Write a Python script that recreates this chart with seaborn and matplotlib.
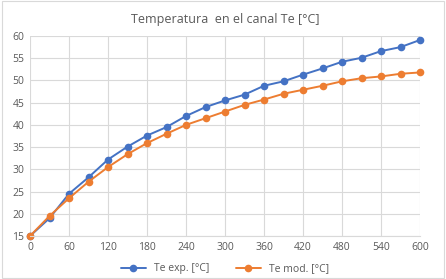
import matplotlib
matplotlib.use("Agg")
import matplotlib.pyplot as plt
import pandas as pd
import seaborn as sns

tiempo = [0, 30, 60, 90, 120, 150, 180, 210, 240, 270, 300, 330, 360, 390, 420, 450, 480, 510, 540, 570, 600]
te_exp = [15.0, 19.0, 24.5, 28.2, 32.2, 35.1, 37.6, 39.5, 42.0, 44.0, 45.5, 46.8, 48.8, 49.8, 51.3, 52.7, 54.2, 55.1, 56.6, 57.5, 59.1]
te_mod = [15.0, 19.5, 23.5, 27.2, 30.5, 33.4, 35.9, 38.0, 40.0, 41.5, 43.0, 44.5, 45.7, 47.0, 47.9, 48.8, 49.8, 50.5, 50.9, 51.5, 51.8]
series = ["Te exp. [°C]", "Te mod. [°C]"]
x_ticks = list(range(0, 601, 60))
y_ticks = list(range(15, 61, 5))

df = pd.DataFrame({"t": tiempo * 2,
                   "Te": te_exp + te_mod,
                   "serie": [series[0]] * len(tiempo) + [series[1]] * len(tiempo)})

sns.set_style("white")
plt.rcParams["font.family"] = ["Open Sans", "DejaVu Sans"]

fig = plt.figure(figsize=(4.46, 2.79), dpi=100)
ax = fig.add_axes([30 / 446, 1 - 236 / 279, 390 / 446, 200 / 279])

sns.lineplot(data=df, x="t", y="Te", hue="serie", marker="o", markersize=5.5,
             markeredgewidth=0, linewidth=1.4, palette=["#4472C4", "#ED7D31"],
             ax=ax, legend=True)
for line in ax.lines:
    line.set_clip_on(False)

ax.set_xlim(0, 600)
ax.set_ylim(15, 60)
ax.set_xticks(x_ticks)
ax.set_yticks(y_ticks)
ax.grid(True, color="#D9D9D9", linewidth=0.8)
ax.set_axisbelow(True)
for s in ["top", "right", "left"]:
    ax.spines[s].set_visible(False)
ax.spines["bottom"].set_color("#D9D9D9")
ax.tick_params(axis="both", length=0, labelsize=7.5, colors="#595959", pad=4)
ax.set_xlabel("")
ax.set_ylabel("")
ax.set_title("Temperatura  en el canal Te [°C]", fontsize=9, color="#595959", pad=9)

leg = ax.legend(loc="upper center", bbox_to_anchor=(0.5, -0.09), ncol=2,
                frameon=False, fontsize=7.5, handlelength=2.4, columnspacing=2.5)
for t in leg.get_texts():
    t.set_color("#595959")

fig.patches.append(plt.Rectangle((0.004, 0.004), 0.992, 0.992, transform=fig.transFigure,
                                 fill=False, edgecolor="#D9D9D9", linewidth=0.8))

fig.savefig("out.png", dpi=100)
